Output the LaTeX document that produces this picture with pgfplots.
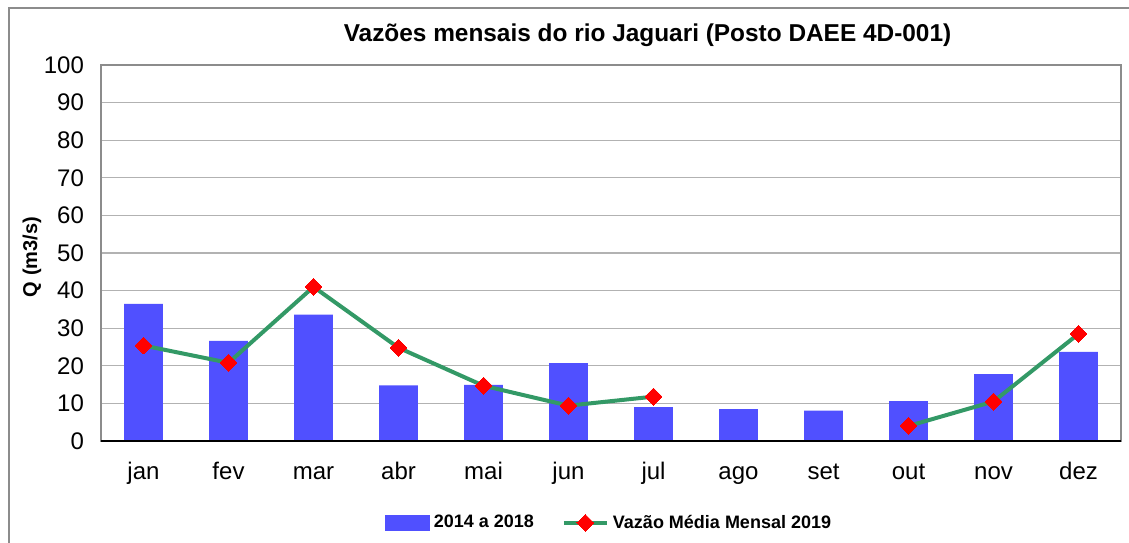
\documentclass[border=0pt]{standalone}
\usepackage{pgfplots}
\pgfplotsset{compat=1.18}
\usepackage{fontspec}
\setmainfont{Liberation Sans}
\definecolor{barblue}{RGB}{80,80,255}
\definecolor{lgreen}{RGB}{51,153,102}
\pgfplotsset{
  barlegend/.style={legend image code/.code={\fill[barblue] (0pt,-4pt) rectangle (22.5pt,4pt);}},
  linelegend/.style={legend image code/.code={\draw[##1, mark repeat=2, mark phase=2] plot coordinates {(0pt,0pt) (10.75pt,0pt) (21.5pt,0pt)};}},
}
\begin{document}
\begin{tikzpicture}
\useasboundingbox (0,0) rectangle (564.5pt,271pt);
\draw[gray!90, line width=0.7pt] (4.5pt,-20pt) -- (4.5pt,267pt) -- (600pt,267pt);
\node[font=\fontsize{12.2}{14}\selectfont\bfseries] at (323.75pt,253.5pt) {Vazões mensais do rio Jaguari (Posto DAEE 4D-001)};
\node[font=\fontsize{10}{12}\selectfont\bfseries, rotate=90] at (16pt,142.5pt) {Q (m3/s)};
\begin{axis}[
  at={(50.5pt,50.5pt)}, anchor=south west,
  scale only axis, width=510pt, height=188pt,
  xmin=-0.5, xmax=11.5, ymin=0, ymax=100,
  ytick={0,10,...,100},
  xtick={0,...,11},
  xticklabels={jan,fev,mar,abr,mai,jun,jul,ago,set,out,nov,dez},
  major tick length=0pt,
  ymajorgrids,
  grid style={gray!60, line width=0.6pt},
  axis line style={gray!90, line width=0.7pt},
  tick label style={font=\fontsize{12}{14}\selectfont},
  yticklabel style={/pgf/number format/assume math mode=true, xshift=-5pt},
  xticklabel style={anchor=base, yshift=-19pt},
  unbounded coords=jump,
  legend style={at={(0.499,-0.218)}, anchor=center, draw=none, fill=none,
    font=\fontsize{9}{11}\selectfont\bfseries, legend columns=2,
    /tikz/every even column/.append style={column sep=12pt},
    inner sep=0pt},
  legend cell align=left,
]
\addplot[ybar, bar width=19.3pt, fill=barblue, draw=none, barlegend]
  coordinates {(0,36.5) (1,26.6) (2,33.6) (3,14.8) (4,14.9) (5,20.7) (6,9.0) (7,8.5) (8,8.1) (9,10.6) (10,17.8) (11,23.7)};
\addlegendentry{2014 a 2018}
\addplot[lgreen, line width=2pt, mark=square*, mark size=3pt,
  mark options={fill=red, draw=red, line width=0pt, rotate=45}, linelegend]
  coordinates {(0,25.4) (1,20.8) (2,41.0) (3,24.8) (4,14.7) (5,9.4) (6,11.8) (7,nan) (8,nan) (9,4.0) (10,10.5) (11,28.5)};
\addlegendentry{Vazão Média Mensal 2019}
\draw[black, line width=0.7pt] (axis cs:-0.5,0) -- (axis cs:11.5,0);
\end{axis}
\end{tikzpicture}
\end{document}
